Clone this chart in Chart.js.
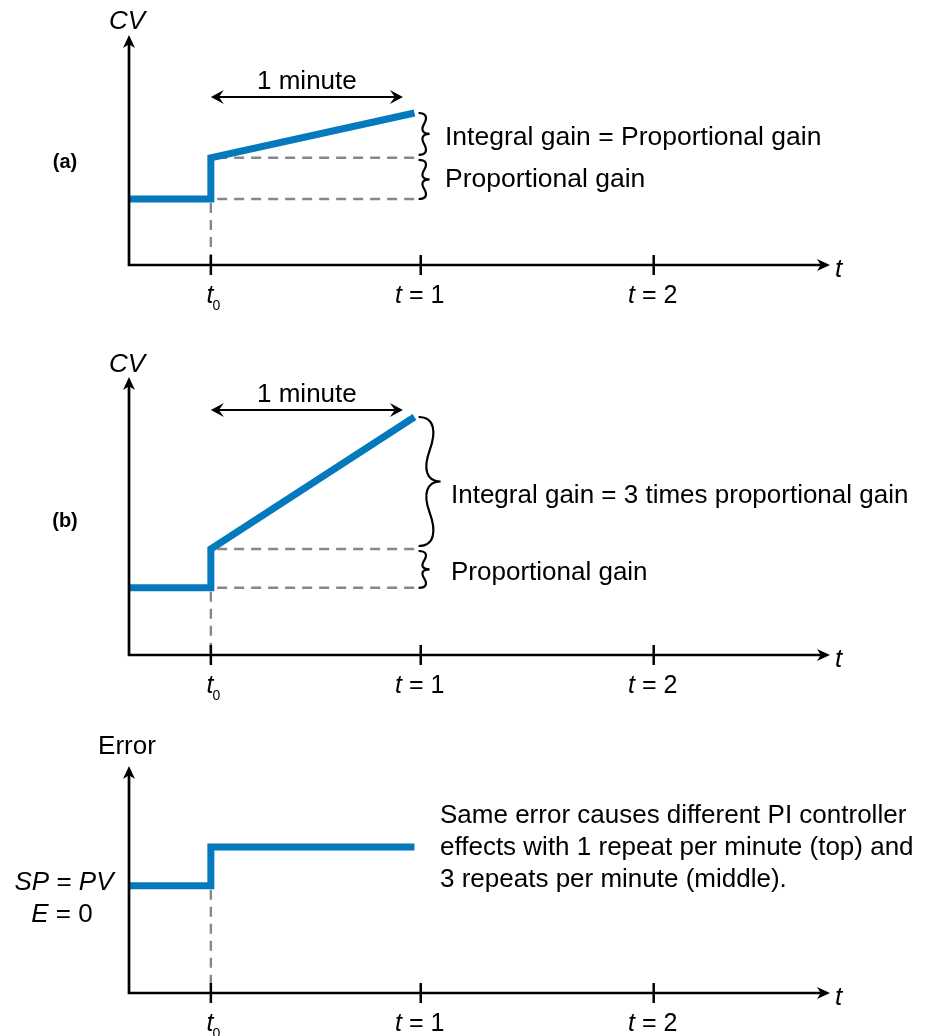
<!DOCTYPE html>
<html><head><meta charset="utf-8">
<script src="https://cdn.jsdelivr.net/npm/chart.js@4.4.1/dist/chart.umd.min.js"></script>
<style>
html,body{margin:0;padding:0;background:#fff;}
#wrap{position:relative;width:933px;height:1036px;overflow:hidden;background:#fff;}
canvas{position:absolute;left:0;}
</style></head><body>
<div id="wrap">
<canvas id="ca" width="933" height="320" style="top:0px"></canvas>
<canvas id="cb" width="933" height="380" style="top:320px"></canvas>
<canvas id="cc" width="933" height="336" style="top:700px"></canvas>
</div>
<script>
// ---------- data ----------
// time axis, minutes (t0 = moment of the error step)
const timeTicks = [0, 1, 2.11];
const timeTickLabels = [
  [{t:'t', i:1}, {t:'0', s:1}],
  [{t:'t', i:1}, {t:' = 1'}],
  [{t:'t', i:1}, {t:' = 2'}]
];
const timeRange = [-0.39, 2.95];
const minuteSpan = [0, 0.915];      // "1 minute" arrow
const guideEnd = 0.985;             // end of grey dashed guides

// (a) CV, 1 repeat per minute
const cvA_t = [-0.39, 0, 0, 0.97];
const cvA_v = [1.65, 1.65, 2.68, 3.8];
// (b) CV, 3 repeats per minute
const cvB_t = [-0.39, 0, 0, 0.97];
const cvB_v = [1.68, 1.68, 2.65, 5.95];
// Error
const err_t = [-0.39, 0, 0, 0.97];
const err_v = [2.68, 2.68, 3.65, 3.65];

const yMaxA = 5.75, yMaxB = 6.95, yMaxC = 5.675;

// ---------- styling ----------
const BLUE = '#0479bd';
const GREY = '#878787';
const INK = '#000';
const FONT = '"Liberation Sans", Arial, Helvetica, sans-serif';
function font(px, it, bold){ return (it?'italic ':'') + (bold?'bold ':'') + px + 'px ' + FONT; }

function drawRich(ctx, parts, x, y, align, size){
  let w = 0; const ms = [];
  parts.forEach(p => { ctx.font = font(p.s ? Math.round(size*0.55) : size, p.i); const m = ctx.measureText(p.t).width; ms.push(m); w += m; });
  let cx = align === 'center' ? x - w/2 : (align === 'right' ? x - w : x);
  ctx.textAlign = 'left'; ctx.textBaseline = 'alphabetic'; ctx.fillStyle = INK;
  parts.forEach((p, k) => {
    ctx.font = font(p.s ? Math.round(size*0.55) : size, p.i);
    ctx.fillText(p.t, cx + (p.s ? -1 : 0), y + (p.s ? size*0.26 : 0));
    cx += ms[k];
  });
}
function arrowHead(ctx, x, y, ang, len, half, notch){
  ctx.save(); ctx.translate(x, y); ctx.rotate(ang);
  ctx.beginPath(); ctx.moveTo(0, 0); ctx.lineTo(-len, -half); ctx.lineTo(-len*(notch || 0.72), 0); ctx.lineTo(-len, half); ctx.closePath();
  ctx.fillStyle = INK; ctx.fill(); ctx.restore();
}
function brace(ctx, x, y1, y2, w){
  const h = y2 - y1, ym = (y1 + y2)/2;
  ctx.beginPath();
  ctx.moveTo(x, y1);
  ctx.bezierCurveTo(x + w*0.75, y1, x + w*0.8, y1 + h*0.12, x + w*0.5, y1 + h*0.26);
  ctx.bezierCurveTo(x + w*0.2, y1 + h*0.40, x + w*0.35, ym, x + w, ym);
  ctx.bezierCurveTo(x + w*0.35, ym, x + w*0.2, y2 - h*0.40, x + w*0.5, y2 - h*0.26);
  ctx.bezierCurveTo(x + w*0.8, y2 - h*0.12, x + w*0.75, y2, x, y2);
  ctx.strokeStyle = INK; ctx.lineWidth = 2.2; ctx.stroke();
}

function overlay(cfg){
  return {
    id: 'overlay',
    afterDatasetsDraw(chart){
      const ctx = chart.ctx, a = chart.chartArea;
      const xs = chart.scales.x, ys = chart.scales.y;
      ctx.save();
      // axes
      ctx.strokeStyle = INK; ctx.lineWidth = 2.7; ctx.lineJoin = 'miter';
      ctx.beginPath(); ctx.moveTo(a.left, a.top + 8); ctx.lineTo(a.left, a.bottom); ctx.lineTo(a.right - 8, a.bottom); ctx.stroke();
      arrowHead(ctx, a.left, a.top, -Math.PI/2, 13, 6);
      arrowHead(ctx, a.right, a.bottom, 0, 13, 6);
      // ticks and labels
      timeTicks.forEach((v, k) => {
        const px = xs.getPixelForValue(v);
        ctx.strokeStyle = INK; ctx.lineWidth = 2.5;
        ctx.beginPath(); ctx.moveTo(px, a.bottom - 10); ctx.lineTo(px, a.bottom + 10); ctx.stroke();
        drawRich(ctx, timeTickLabels[k], px + (k === 0 ? 3 : -1), a.bottom + 38, 'center', 25);
      });
      drawRich(ctx, [{t:'t', i:1}], a.right + 5, a.bottom + 12, 'left', 26);
      // y title
      drawRich(ctx, cfg.yTitle, a.left - 2, a.top + cfg.yTitleDy, 'center', 26);
      if (cfg.tag){ ctx.font = font(20, 0, 1); ctx.fillStyle = INK; ctx.textAlign = 'center'; ctx.textBaseline = 'alphabetic'; ctx.fillText(cfg.tag, 65, cfg.tagY); }
      // 1 minute arrow
      if (cfg.minuteY){
        const x1 = xs.getPixelForValue(minuteSpan[0]), x2 = xs.getPixelForValue(minuteSpan[1]);
        ctx.strokeStyle = INK; ctx.lineWidth = 2.2;
        ctx.beginPath(); ctx.moveTo(x1 + 8, cfg.minuteY); ctx.lineTo(x2 - 8, cfg.minuteY); ctx.stroke();
        arrowHead(ctx, x1, cfg.minuteY, Math.PI, 13, 7, 0.62);
        arrowHead(ctx, x2, cfg.minuteY, 0, 13, 7, 0.62);
        drawRich(ctx, [{t:'1 minute'}], (x1 + x2)/2, cfg.minuteY - 8, 'center', 26);
      }
      // braces
      if (cfg.braces){
        const bx = xs.getPixelForValue(guideEnd) + 1;
        const vEnd = ys.getPixelForValue(cfg.v[3]), vStep = ys.getPixelForValue(cfg.v[2]), vBase = ys.getPixelForValue(cfg.v[0]);
        brace(ctx, bx, vEnd, vStep - 3, Math.min(22, Math.max(11, (vStep - vEnd)/5.5)));
        brace(ctx, bx, vStep + 2, vBase, 11);
      }
      (cfg.notes || []).forEach(n => drawRich(ctx, n.parts, n.x, n.y, n.align || 'left', n.size || 26));
      ctx.restore();
    }
  };
}

function makeChart(id, cfg){
  const datasets = [{
    data: cfg.t.map((t, k) => ({x: t, y: cfg.v[k]})),
    borderColor: BLUE, borderWidth: 7, pointRadius: 0, borderJoinStyle: 'miter', borderCapStyle: 'butt',
    tension: 0, fill: false, order: 0, clip: false
  }];
  const dash = {borderColor: GREY, borderWidth: 2.4, borderDash: [10, 7], pointRadius: 0, tension: 0, fill: false, order: 1, clip: false};
  datasets.push(Object.assign({data: [{x: 0, y: cfg.v[0] - 0.1}, {x: 0, y: 0}]}, dash));
  if (cfg.braces){
    datasets.push(Object.assign({data: [{x: 0.03, y: cfg.v[0]}, {x: guideEnd, y: cfg.v[0]}]}, dash));
    datasets.push(Object.assign({data: [{x: 0.03, y: cfg.v[2]}, {x: guideEnd, y: cfg.v[2]}]}, dash));
  }
  return new Chart(document.getElementById(id), {
    type: 'line',
    data: {datasets},
    options: {
      responsive: false, animation: false, devicePixelRatio: 1, events: [],
      layout: {padding: {left: 129, right: 103, top: cfg.padTop, bottom: cfg.padBottom}},
      plugins: {legend: {display: false}, tooltip: {enabled: false}},
      scales: {
        x: {type: 'linear', display: false, min: timeRange[0], max: timeRange[1]},
        y: {type: 'linear', display: false, min: 0, max: cfg.yMax}
      }
    },
    plugins: [overlay(cfg)]
  });
}

makeChart('ca', {
  t: cvA_t, v: cvA_v, yMax: yMaxA, padTop: 35, padBottom: 55,
  yTitle: [{t:'CV', i:1}], yTitleDy: -6, tag: '(a)', tagY: 168, minuteY: 97, braces: true,
  notes: [
    {parts: [{t:'Integral gain = Proportional gain'}], x: 445, y: 145, size: 26.5},
    {parts: [{t:'Proportional gain'}], x: 445, y: 187, size: 26.5}
  ]
});
makeChart('cb', {
  t: cvB_t, v: cvB_v, yMax: yMaxB, padTop: 57, padBottom: 45,
  yTitle: [{t:'CV', i:1}], yTitleDy: -5, tag: '(b)', tagY: 207, minuteY: 90, braces: true,
  notes: [
    {parts: [{t:'Integral gain = 3 times proportional gain'}], x: 451, y: 183},
    {parts: [{t:'Proportional gain'}], x: 451, y: 260}
  ]
});
makeChart('cc', {
  t: err_t, v: err_v, yMax: yMaxC, padTop: 66, padBottom: 43,
  yTitle: [{t:'Error'}], yTitleDy: -12, braces: false,
  notes: [
    {parts: [{t:'Same error causes different PI controller'}], x: 440, y: 123},
    {parts: [{t:'effects with 1 repeat per minute (top) and'}], x: 440, y: 155},
    {parts: [{t:'3 repeats per minute (middle).'}], x: 440, y: 187},
    {parts: [{t:'SP', i:1}, {t:' = '}, {t:'PV', i:1}], x: 64, y: 190, align: 'center'},
    {parts: [{t:'E', i:1}, {t:' = 0'}], x: 62, y: 222, align: 'center'}
  ]
});
</script>
</body></html>
